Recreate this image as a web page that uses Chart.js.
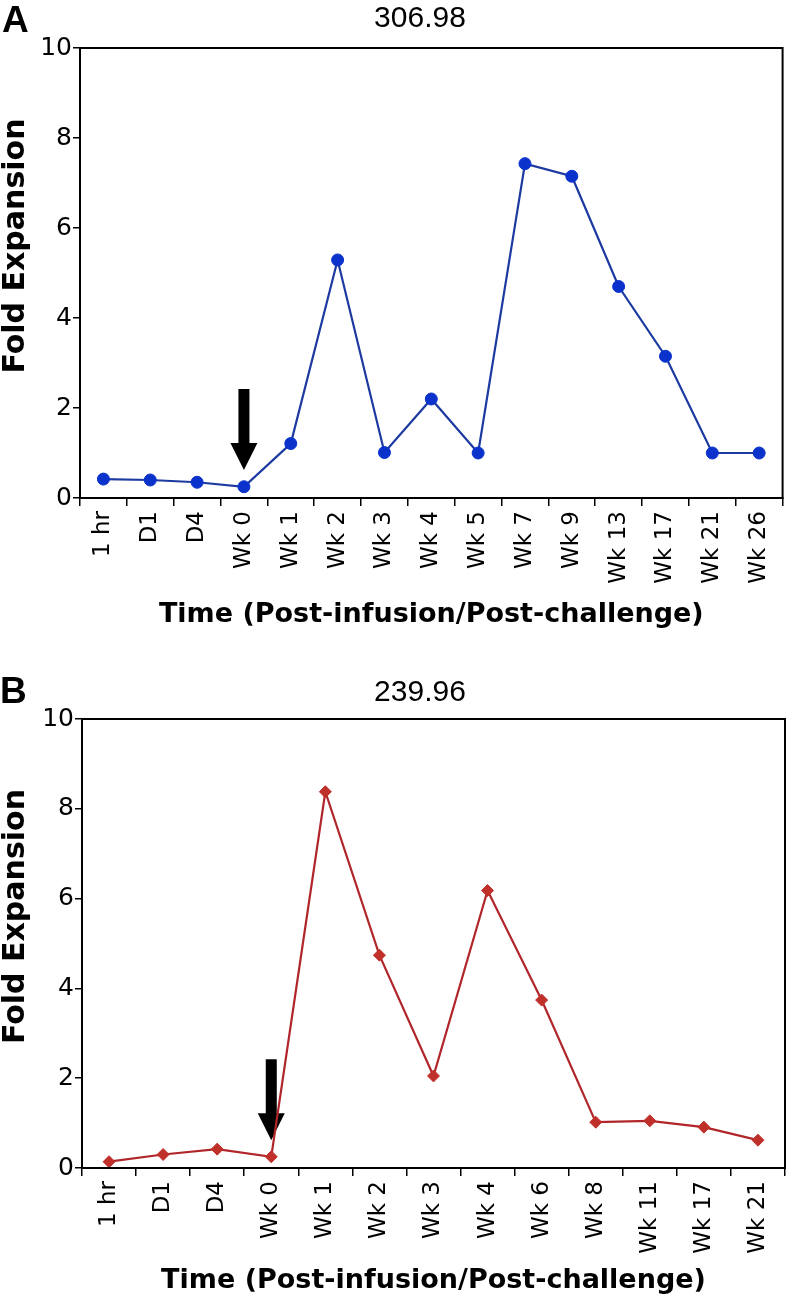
<!DOCTYPE html>
<html>
<head>
<meta charset="utf-8">
<script src="https://cdn.jsdelivr.net/npm/chart.js@4.4.0/dist/chart.umd.min.js"></script>
<style>
  body { margin: 0; background: #fff; }
  .panel { position: relative; width: 792px; }
  canvas { display: block; }
  .letter { position: absolute; font: bold 37px/37px "Liberation Sans", Arial, sans-serif; }
  .value { position: absolute; font: 30px/30px "Liberation Sans", Arial, sans-serif; transform: translateX(-50%); }
</style>
</head>
<body>
<div class="panel" style="height:645px">
  <canvas id="chartA" width="792" height="645"></canvas>
  <div class="letter" style="left:2px;top:1px">A</div>
  <div class="value" style="left:420px;top:2px">306.98</div>
</div>
<div class="panel" style="height:652px">
  <canvas id="chartB" width="792" height="652"></canvas>
  <div class="letter" style="left:0px;top:27px">B</div>
  <div class="value" style="left:420px;top:31px">239.96</div>
</div>
<script>
// panel A
const labelsA = ["1 hr", "D1", "D4", "Wk 0", "Wk 1", "Wk 2", "Wk 3", "Wk 4", "Wk 5", "Wk 7", "Wk 9", "Wk 13", "Wk 17", "Wk 21", "Wk 26"];
const foldA = [0.42, 0.40, 0.35, 0.25, 1.21, 5.29, 1.01, 2.2, 1.0, 7.43, 7.15, 4.7, 3.15, 1.0, 1.0];

// panel B
const labelsB = ["1 hr", "D1", "D4", "Wk 0", "Wk 1", "Wk 2", "Wk 3", "Wk 4", "Wk 6", "Wk 8", "Wk 11", "Wk 17", "Wk 21"];
const foldB = [0.14, 0.30, 0.42, 0.25, 8.38, 4.74, 2.05, 6.18, 3.74, 1.02, 1.05, 0.91, 0.62];

const yTicks = [0, 2, 4, 6, 8, 10];

// challenge arrow: category and fold range it spans
const arrowAt = "Wk 0";
const arrowFrom = 2.42;
const arrowTo = 0.62;

const FONT = "'DejaVu Sans', Verdana, sans-serif";

// box round the plot area
const frame = {
  id: "frame",
  afterDatasetsDraw(chart) {
    const { ctx, chartArea: a } = chart;
    ctx.save();
    ctx.strokeStyle = "#000";
    ctx.lineWidth = 2;
    ctx.strokeRect(a.left, a.top, a.right - a.left, a.bottom - a.top);
    ctx.restore();
  }
};

const arrow = {
  id: "arrow",
  beforeDatasetsDraw(chart) {
    const { ctx, scales } = chart;
    const x = scales.x.getPixelForValue(chart.data.labels.indexOf(arrowAt));
    const y0 = scales.y.getPixelForValue(arrowFrom);
    const y1 = scales.y.getPixelForValue(arrowTo);
    const head = 27;
    ctx.save();
    ctx.fillStyle = "#000";
    ctx.beginPath();
    ctx.moveTo(x - 5.5, y0);
    ctx.lineTo(x + 5.5, y0);
    ctx.lineTo(x + 5.5, y1 - head);
    ctx.lineTo(x + 13.5, y1 - head);
    ctx.lineTo(x, y1);
    ctx.lineTo(x - 13.5, y1 - head);
    ctx.lineTo(x - 5.5, y1 - head);
    ctx.closePath();
    ctx.fill();
    ctx.restore();
  }
};

// y title sits a bit above the plot centre in the original
const yTitle = {
  id: "yTitle",
  afterDraw(chart) {
    const { ctx, chartArea: a } = chart;
    ctx.save();
    ctx.translate(24, (a.top + a.bottom) / 2 - 27);
    ctx.rotate(-Math.PI / 2);
    ctx.font = "bold 30px " + FONT;
    ctx.fillStyle = "#000";
    ctx.textAlign = "center";
    ctx.fillText("Fold Expansion", 0, 0);
    ctx.restore();
  }
};

function makePanel(id, labels, values, look, box) {
  return new Chart(document.getElementById(id), {
    type: "line",
    data: {
      labels: labels,
      datasets: [{
        data: values,
        borderColor: look.line,
        borderWidth: 2.2,
        pointStyle: look.marker,
        pointRadius: look.radius,
        pointBackgroundColor: look.point,
        pointBorderColor: look.point,
        pointBorderWidth: 1,
        tension: 0
      }]
    },
    options: {
      responsive: false,
      animation: false,
      events: [],
      layout: { padding: { top: box.top, right: box.right, left: 0, bottom: 0 } },
      plugins: { legend: { display: false }, tooltip: { enabled: false } },
      scales: {
        x: {
          offset: true,
          grid: { offset: true, drawOnChartArea: false, tickLength: 8, color: "#000", lineWidth: 1.5 },
          border: { color: "#000", width: 2 },
          ticks: {
            autoSkip: false, minRotation: 90, maxRotation: 90, padding: 5, color: "#000",
            font: { family: FONT, size: 23 }
          },
          title: {
            display: true,
            text: "Time (Post-infusion/Post-challenge)",
            color: "#000",
            font: { family: FONT, size: 27, weight: "bold" },
            padding: { top: 0, bottom: box.titlePad }
          },
          afterFit: s => { s.height = box.xHeight; }
        },
        y: {
          min: 0,
          max: 10,
          afterBuildTicks: s => { s.ticks = yTicks.map(v => ({ value: v })); },
          grid: { drawOnChartArea: false, tickLength: 7, color: "#000", lineWidth: 1.5 },
          border: { color: "#000", width: 2 },
          ticks: { padding: 1, color: "#000", font: { family: FONT, size: 25 } },
          afterFit: s => { s.width = box.yWidth; }
        }
      }
    },
    plugins: [arrow, frame, yTitle]
  });
}

makePanel("chartA", labelsA, foldA,
  { line: "#1c3aa0", point: "#0b33cc", marker: "circle", radius: 6 },
  { top: 48, right: 3, yWidth: 80, xHeight: 147, titlePad: 14 });

makePanel("chartB", labelsB, foldB,
  { line: "#b0262a", point: "#c0302b", marker: "rectRot", radius: 6 },
  { top: 74, right: 4, yWidth: 82, xHeight: 129, titlePad: 0 });
</script>
</body>
</html>
